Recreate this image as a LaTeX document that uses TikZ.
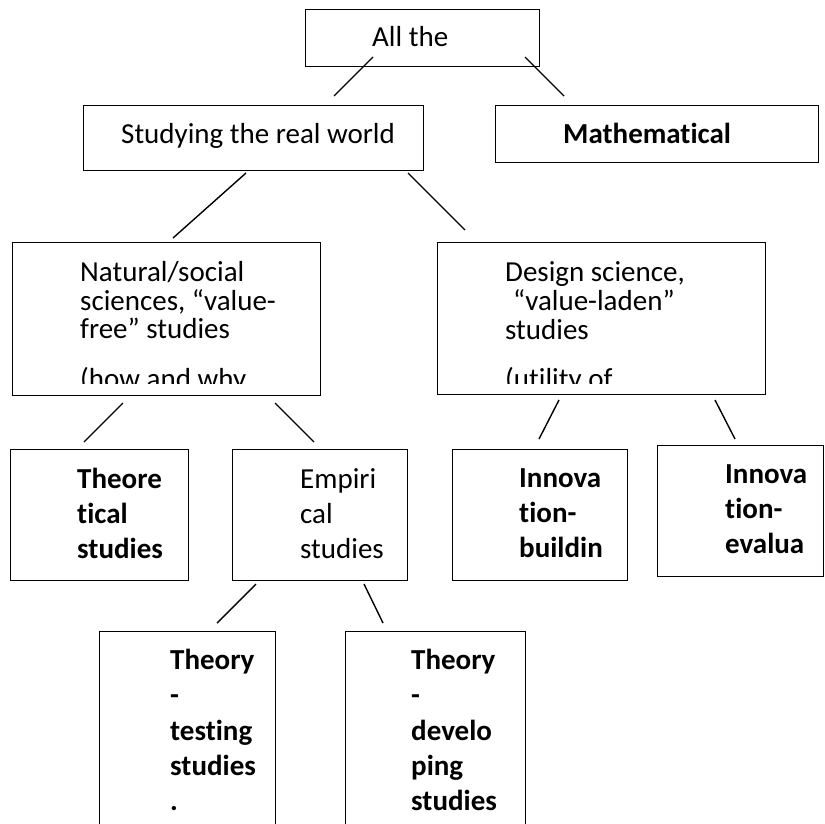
\documentclass[tikz,border=0pt]{standalone}
\usepackage{fontspec}
\setmainfont[Ligatures={NoCommon,NoContextual}]{Carlito}
\begin{document}
\begin{tikzpicture}[x=1pt,y=-1pt,
  box/.style={draw=black,line width=1.4pt,rectangle,inner sep=0pt,anchor=north west},
  txt/.style={anchor=base west,inner sep=0pt,font=\fontsize{29}{35}\selectfont},
  btxt/.style={anchor=base west,inner sep=0pt,font=\fontsize{29}{35}\selectfont\bfseries},
  link/.style={draw=black,line width=1.4pt}]
\useasboundingbox (0,0) rectangle (824,824);
\fill[white] (0,0) rectangle (824,824);
% boxes
\node[box,minimum width=234pt,minimum height=57pt] (top) at (305,9) {};
\node[box,minimum width=340pt,minimum height=65pt] (real) at (83,105) {};
\node[box,minimum width=323pt,minimum height=57pt] (math) at (495,105) {};
\node[box,minimum width=308pt,minimum height=153pt] (nat) at (12,242) {};
\node[box,minimum width=328pt,minimum height=152pt] (des) at (437,242) {};
\node[box,minimum width=178pt,minimum height=131pt] (theo) at (10,449) {};
\node[box,minimum width=175pt,minimum height=131pt] (emp) at (232,449) {};
\node[box,minimum width=175pt,minimum height=131pt] (ib) at (452,449) {};
\node[box,minimum width=166pt,minimum height=131pt] (ie) at (657,445) {};
\node[box,minimum width=176pt,minimum height=250pt] (tt) at (99,631) {};
\node[box,minimum width=180pt,minimum height=250pt] (td) at (345,631) {};
% texts
\node[txt] (ttop) at (372,47) {All the};
\node[txt] (treal) at (121,143) {Studying the real world};
\node[btxt] (tmath) at (563,143) {Mathematical};
\begin{scope}
\clip (12,242) rectangle (320,383);
\node[txt] (tnat1) at (80,281) {Natural/social};
\node[txt] (tnat2) at (80,310) {sciences, “value-};
\node[txt] (tnat3) at (80,338) {free” studies};
\node[txt] (tnat4) at (80,388) {(how and why};
\end{scope}
\begin{scope}
\clip (437,242) rectangle (765,383);
\node[txt] (tdes1) at (505,281) {Design science,};
\node[txt] (tdes2) at (513,310) {“value-laden”};
\node[txt] (tdes3) at (505,339) {studies};
\node[txt] (tdes4) at (505,388) {(utility of};
\end{scope}
\node[btxt] (ttheo1) at (77,488) {Theore};
\node[btxt] (ttheo2) at (77,523) {tical};
\node[btxt] (ttheo3) at (77,558) {studies};
\node[txt] (temp1) at (300,488) {Empiri};
\node[txt] (temp2) at (300,523) {cal};
\node[txt] (temp3) at (300,558) {studies};
\node[btxt] (tib1) at (519,487) {Innova};
\node[btxt] (tib2) at (519,522) {tion-};
\node[btxt] (tib3) at (519,557) {buildin};
\node[btxt] (tie1) at (725,483) {Innova};
\node[btxt] (tie2) at (725,518) {tion-};
\node[btxt] (tie3) at (725,553) {evalua};
\node[btxt] (ttt1) at (170,669) {Theory};
\node[btxt] (ttt2) at (170,704) {-};
\node[btxt] (ttt3) at (170,740) {testing};
\node[btxt] (ttt4) at (170,775) {studies};
\node[btxt] (ttt5) at (170,810) {.};
\node[btxt] (ttd1) at (411,669) {Theory};
\node[btxt] (ttd2) at (411,704) {-};
\node[btxt] (ttd3) at (411,740) {develo};
\node[btxt] (ttd4) at (411,775) {ping};
\node[btxt] (ttd5) at (411,810) {studies};
% connector end points
\coordinate (a1) at (373,57); \coordinate (b1) at (334,96);
\coordinate (a2) at (525,57); \coordinate (b2) at (564,96);
\coordinate (a3) at (246,173); \coordinate (b3) at (173,238);
\coordinate (a4) at (408,173); \coordinate (b4) at (465,230);
\coordinate (a5) at (123,403); \coordinate (b5) at (84,442);
\coordinate (a6) at (275,403); \coordinate (b6) at (314,442);
\coordinate (a7) at (559,400); \coordinate (b7) at (539,439);
\coordinate (a8) at (715,400); \coordinate (b8) at (735,439);
\coordinate (a9) at (256,584); \coordinate (b9) at (217,623);
\coordinate (a10) at (364,584); \coordinate (b10) at (383,623);
\foreach \i in {1,...,10} {\draw[link] (a\i) -- (b\i);}
\end{tikzpicture}
\end{document}
